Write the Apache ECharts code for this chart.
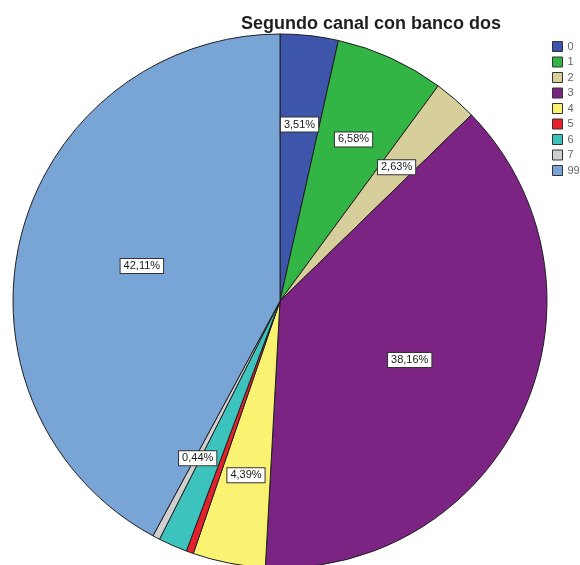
<!DOCTYPE html>
<html>
<head>
<meta charset="utf-8">
<script src="https://cdn.jsdelivr.net/npm/echarts@6/dist/echarts.min.js"></script>
<style>
  html, body { margin: 0; padding: 0; background: #ffffff; }
  #chart { width: 580px; height: 565px; }
</style>
</head>
<body>
<div id="chart"></div>
<script>
// Category codes and their shares (percent of respondents)
const categories = ['0', '1', '2', '3', '4', '5', '6', '7', '99'];
const percents = [3.51, 6.58, 2.63, 38.16, 4.39, 0.44, 1.75, 0.44, 42.11];
const sliceColors = ['#3d56ab', '#33b545', '#d6cf9b', '#7b2483', '#f9f371', '#e5222c', '#3dc3bd', '#cfcfcf', '#79a5d6'];
// Slices that carry a percentage label
const labelled = ['0', '1', '2', '3', '4', '7', '99'];

const fmt = v => v.toFixed(2).replace('.', ',') + '%';

const center = [280, 301];
const outerR = 267;

const data = categories.map((c, i) => ({
  name: c,
  value: percents[i],
  itemStyle: { color: sliceColors[i] }
}));

const labelStyle = {
  show: true,
  position: 'inside',
  formatter: p => fmt(p.value),
  fontFamily: 'Liberation Sans, Arial, sans-serif',
  fontSize: 11,
  color: '#1a1a1a',
  backgroundColor: '#ffffff',
  borderColor: '#333333',
  borderWidth: 1,
  padding: [2, 3, 1, 3]
};

// Transparent ring that only carries labels for a subset of slices
function labelRing(r0, pick) {
  return {
    type: 'pie',
    silent: true,
    center: center,
    radius: [r0, outerR],
    startAngle: 90,
    clockwise: true,
    legendHoverLink: false,
    z: 5,
    itemStyle: { color: 'rgba(0,0,0,0)', borderWidth: 0 },
    emphasis: { disabled: true },
    labelLine: { show: false },
    data: categories.map((c, i) => ({
      name: c,
      value: percents[i],
      itemStyle: { color: 'rgba(0,0,0,0)' },
      label: Object.assign({}, labelStyle, { show: labelled.includes(c) && pick(percents[i]) })
    }))
  };
}

const chart = echarts.init(document.getElementById('chart'), null, { renderer: 'canvas' });
chart.setOption({
  animation: false,
  backgroundColor: '#ffffff',
  title: {
    text: 'Segundo canal con banco dos',
    left: 366,
    textAlign: 'center',
    top: 10,
    textStyle: {
      fontFamily: 'Liberation Sans, Arial, sans-serif',
      fontSize: 18,
      fontWeight: 'bold',
      color: '#1e1e1e'
    }
  },
  legend: {
    orient: 'vertical',
    left: 547,
    top: 36,
    itemWidth: 10,
    itemHeight: 10,
    itemGap: 4.5,
    icon: 'rect',
    data: categories,
    itemStyle: { borderColor: '#333', borderWidth: 1 },
    textStyle: {
      fontFamily: 'Liberation Sans, Arial, sans-serif',
      fontSize: 11,
      color: '#666'
    },
    selectedMode: false
  },
  series: [
    {
      type: 'pie',
      name: 'Segundo canal con banco dos',
      center: center,
      radius: outerR,
      startAngle: 90,
      clockwise: true,
      itemStyle: { borderColor: '#1f1f1f', borderWidth: 1 },
      label: { show: false },
      labelLine: { show: false },
      emphasis: { disabled: true },
      data: data
    },
    // small slices: labels further out along the radius
    labelRing(82, v => v < 20),
    // large slices: labels nearer the centre
    labelRing(12, v => v >= 20)
  ]
});
</script>
</body>
</html>
